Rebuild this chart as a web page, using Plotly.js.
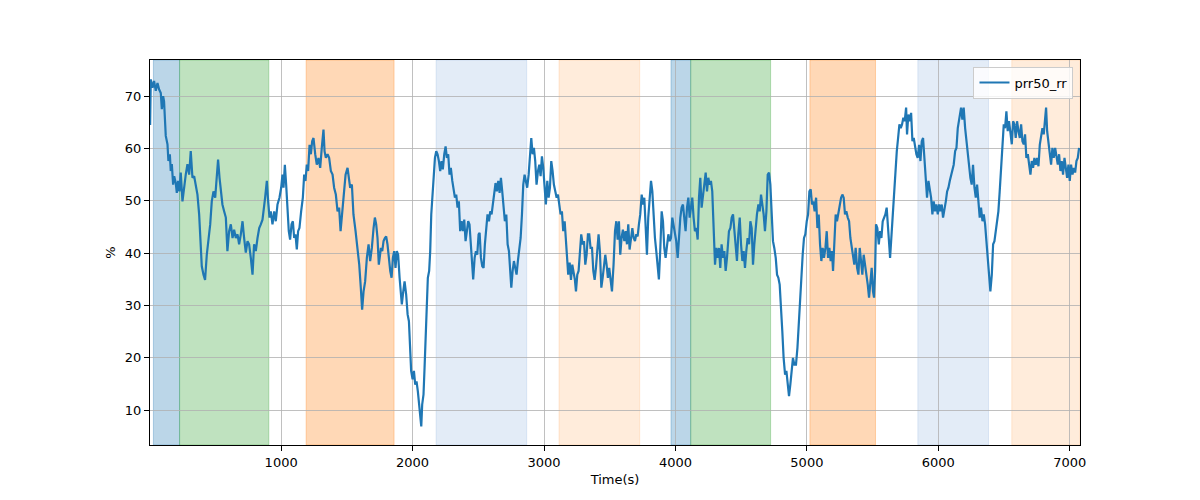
<!DOCTYPE html>
<html>
<head>
<meta charset="utf-8">
<script src="https://cdn.plot.ly/plotly-3.0.1.min.js"></script>
<style>html,body{margin:0;padding:0;background:#fff}#chart{width:1200px;height:500px}</style>
</head>
<body>
<div id="chart"></div>
<script>
// Time stamps (s) and prr50_rr values (%)
const timeSec = [
  3, 8, 21, 33, 46, 59, 71, 84, 92, 102,
  109, 122, 135, 142, 153, 160, 168, 178, 186, 198,
  206, 216, 226, 236, 249, 262, 274, 287, 300, 312,
  325, 338, 350, 363, 376, 389, 396, 409, 421, 434,
  447, 460, 472, 485, 498, 510, 520, 531, 541, 553,
  566, 579, 591, 604, 617, 630, 642, 655, 668, 680,
  693, 706, 718, 731, 744, 756, 769, 782, 794, 807,
  820, 833, 845, 858,
  878, 891, 901, 911, 921, 934, 947, 959, 972, 987,
  1000, 1010, 1018, 1028, 1038, 1048, 1058, 1068, 1079, 1089,
  1099, 1109, 1119, 1129, 1139, 1152, 1165, 1175, 1185, 1195,
  1205, 1216, 1226, 1236, 1246, 1259, 1271, 1284, 1297, 1309,
  1322, 1330, 1340, 1353, 1365, 1378, 1391, 1403, 1416, 1429,
  1441, 1452, 1464, 1477, 1490, 1505, 1515, 1525, 1538, 1550,
  1566, 1581, 1594, 1606, 1616, 1627, 1639, 1652, 1665, 1677,
  1690, 1703, 1713, 1723, 1733, 1743,
  1759, 1769, 1779, 1789, 1799, 1809, 1819, 1830, 1840, 1850,
  1860, 1870, 1880, 1890, 1901, 1911, 1918, 1929, 1939, 1951,
  1962, 1972, 1982, 1989, 2000, 2010, 2020, 2030, 2040, 2050,
  2058, 2066, 2073, 2083, 2091, 2099, 2106, 2116, 2126, 2134,
  2142, 2149, 2159, 2170, 2180, 2190, 2200, 2210, 2220, 2230,
  2241, 2251, 2261, 2271, 2281, 2291, 2302, 2312, 2322, 2332,
  2342, 2352, 2362, 2373, 2383, 2393, 2403, 2413, 2423, 2433,
  2444, 2454, 2461, 2472, 2482, 2492, 2502, 2510, 2520, 2530,
  2540, 2550, 2560, 2570, 2581, 2591, 2601, 2611, 2621, 2631,
  2641, 2652, 2662, 2672, 2682, 2692, 2702, 2713, 2723, 2733,
  2743, 2751, 2761, 2771, 2781, 2791, 2801, 2811, 2822, 2832,
  2842, 2852, 2862, 2872, 2883, 2893, 2903, 2913, 2923, 2933,
  2943, 2954, 2964, 2974, 2984, 2994, 3004, 3014, 3025, 3035,
  3045, 3055, 3065, 3075, 3086, 3096, 3106, 3116, 3126, 3136,
  3146, 3157, 3167, 3177, 3184, 3195, 3205, 3215, 3225, 3235,
  3243, 3253, 3263, 3273, 3283, 3294, 3304, 3314, 3324, 3334,
  3344, 3354, 3365, 3375, 3385, 3395, 3405, 3415, 3425, 3436,
  3446, 3456, 3466, 3476, 3486, 3496, 3507, 3517,
  3529, 3540, 3550, 3560, 3570, 3580, 3590, 3600, 3611, 3621,
  3631, 3641, 3651, 3661, 3672, 3682, 3692, 3702, 3712, 3722,
  3732, 3743, 3753, 3763, 3773, 3783, 3793, 3803, 3814, 3824,
  3834, 3844, 3854, 3864, 3874, 3885, 3895, 3905, 3915, 3925,
  3935, 3946, 3956, 3966, 3976, 3986, 3996, 4006, 4017, 4027,
  4037, 4047, 4057, 4067, 4077, 4088, 4098, 4108, 4118, 4128,
  4138, 4148, 4159, 4169, 4179, 4189, 4199, 4209, 4220, 4230,
  4240, 4250, 4260, 4270, 4280, 4291, 4301, 4311, 4321, 4331,
  4341, 4351, 4362, 4372, 4382, 4392,
  4407, 4418, 4428, 4438, 4448, 4458, 4468, 4478, 4489, 4499,
  4509, 4519, 4529, 4539, 4549, 4560, 4570, 4580, 4590, 4600,
  4610, 4620, 4631, 4641, 4651, 4661, 4671, 4681, 4692, 4702,
  4712, 4722, 4732, 4742, 4752, 4763, 4773, 4783, 4793, 4803,
  4813, 4823, 4834, 4844, 4854, 4864, 4874, 4884, 4894, 4905,
  4917, 4928, 4938, 4948, 4958, 4968, 4978, 4988, 4999, 5009,
  5019, 5029, 5039, 5049, 5059, 5070, 5080, 5090, 5100, 5110,
  5120, 5130, 5141, 5151, 5161, 5171, 5181, 5191, 5199, 5209,
  5219, 5229, 5240, 5250, 5260, 5270,
  5280, 5290, 5300, 5311, 5321, 5331, 5341, 5351, 5361, 5371,
  5382, 5392, 5402, 5412, 5422, 5432, 5443, 5453, 5463, 5473,
  5483, 5493, 5503, 5511, 5519, 5526, 5536, 5547, 5557, 5567,
  5577, 5587, 5597, 5607, 5618, 5628, 5633, 5643, 5653, 5663,
  5673, 5684, 5694, 5704, 5714, 5724, 5734, 5744, 5755, 5762,
  5772, 5783, 5793, 5803, 5813, 5823, 5833, 5843, 5854, 5864,
  5874, 5884, 5894, 5904, 5914, 5925, 5935, 5945, 5955, 5965,
  5975, 5985, 5996, 6006, 6016, 6026, 6036, 6046, 6057, 6067,
  6077, 6087, 6097, 6107, 6117, 6128, 6138, 6148, 6158,
  6163, 6173, 6183, 6193, 6204, 6214, 6224, 6234, 6244, 6254,
  6264, 6275, 6285, 6295, 6305, 6315, 6325, 6336, 6346, 6356,
  6366, 6376, 6386, 6396, 6407, 6417, 6427, 6437, 6447, 6457,
  6467, 6478, 6488, 6498, 6508, 6518, 6528, 6538, 6549, 6559,
  6569, 6579, 6589, 6599, 6610, 6620, 6630, 6640, 6650, 6660,
  6670, 6681, 6691, 6701, 6711, 6721, 6731, 6741, 6752, 6762,
  6772, 6782, 6792, 6802, 6812, 6820, 6828, 6838, 6848, 6858,
  6868, 6878, 6889, 6899, 6909, 6919, 6929, 6939, 6949, 6960,
  6970, 6980, 6990, 7000, 7010, 7021, 7031, 7041, 7051, 7061,
  7071
];
const prr50 = [
  64.5, 73.2, 71.6, 72.9, 71.0, 72.5, 71.3, 70.6, 67.5, 70.0,
  69.0, 62.4, 60.8, 57.6, 58.9, 55.7, 57.0, 53.1, 54.7, 53.4,
  51.5, 53.8, 51.8, 55.4, 49.9, 53.1, 55.0, 57.0, 55.0, 59.5,
  54.4, 54.7, 53.1, 51.2, 47.4, 42.3, 37.5, 35.9, 34.9, 39.7,
  42.9, 45.5, 49.9, 51.8, 50.6, 54.4, 57.9, 54.4, 51.8, 49.3,
  48.0, 46.8, 40.4, 44.2, 45.5, 42.9, 44.5, 42.9, 43.6, 41.7,
  43.6, 46.1, 42.9, 40.1, 42.3, 41.7, 39.1, 35.9, 41.7, 40.4,
  42.9, 44.8, 45.5, 46.4,
  50.6, 53.8, 49.9, 46.8, 48.0, 45.5, 48.0, 46.1, 49.3, 50.6,
  52.5, 55.0, 52.5, 56.9, 53.1, 49.3, 44.2, 42.6, 45.5, 46.1,
  42.9, 43.6, 40.7, 44.2, 44.8, 48.0, 50.6, 55.0, 53.8, 56.9,
  55.7, 60.7, 58.9, 61.4, 62.0, 58.9, 56.9, 58.2, 56.3, 60.1,
  63.6, 59.5, 58.2, 58.9, 58.2, 55.7, 55.0, 52.5, 51.2, 48.0,
  48.7, 44.2, 47.4, 51.8, 55.0, 56.3, 53.8, 52.5, 53.1, 47.4,
  44.2, 41.0, 37.8, 33.4, 29.2, 32.7, 34.6, 39.1, 41.7, 38.5,
  41.0, 44.8, 46.8, 45.5, 42.9, 37.8,
  41.0, 40.4, 42.3, 42.9, 43.2, 41.7, 38.5, 36.6, 35.3, 39.1,
  40.4, 37.2, 40.4, 39.7, 35.3, 32.7, 30.2, 32.7, 34.6, 32.1,
  28.3, 27.0, 21.3, 17.5, 15.9, 17.5, 14.9, 15.5, 13.6, 11.1,
  9.8, 6.9, 11.1, 13.0, 18.1, 23.8, 29.6, 35.3, 36.6, 40.4,
  47.4, 50.6, 55.0, 58.2, 59.5, 58.9, 57.6, 55.7, 57.6, 56.0,
  58.9, 60.4, 58.2, 58.9, 55.0, 56.3, 53.8, 52.5, 50.6, 51.2,
  48.7, 49.9, 44.2, 46.1, 44.2, 46.4, 42.3, 44.2, 46.1, 45.5,
  41.7, 38.5, 35.0, 39.1, 40.4, 39.7, 43.6, 43.9, 39.1, 37.5,
  37.2, 41.7, 44.8, 47.4, 46.1, 48.0, 47.4, 49.3, 51.8, 53.4,
  51.8, 53.8, 51.5, 54.4, 51.8, 48.7, 46.1, 47.4, 41.7, 40.4,
  36.6, 33.4, 36.6, 38.5, 37.2, 35.9, 38.5, 41.0, 42.9, 47.4,
  53.1, 55.0, 53.8, 52.5, 55.0, 58.2, 62.0, 58.9, 60.1, 57.6,
  53.1, 55.7, 56.9, 54.7, 58.5, 56.3, 51.8, 49.3, 53.8, 50.6,
  52.5, 57.6, 55.7, 53.1, 51.8, 50.6, 51.2, 49.3, 47.4, 48.0,
  44.2, 46.1, 41.7, 38.5, 35.9, 38.2, 34.9, 37.8, 36.6, 34.9,
  32.7, 35.9, 36.6, 39.7, 43.6, 41.7, 42.3, 37.8, 39.7, 43.6,
  43.6, 41.0, 41.0, 36.6, 34.9, 37.2, 41.0, 43.6, 40.4, 33.4,
  35.3, 37.8, 39.7, 37.8, 35.3, 37.2, 34.0, 32.7,
  37.8, 44.2, 46.1, 42.6, 46.1, 39.7, 42.9, 44.5, 42.3, 44.2,
  41.7, 45.5, 40.7, 42.9, 44.8, 42.9, 42.3, 43.6, 43.2, 45.5,
  47.4, 51.2, 49.3, 50.6, 45.5, 39.7, 46.8, 50.6, 53.8, 51.8,
  46.8, 42.9, 40.4, 37.8, 35.0, 41.0, 48.0, 46.1, 41.0, 39.1,
  41.7, 43.6, 42.3, 42.9, 46.8, 45.5, 44.2, 42.3, 39.1, 43.6,
  46.8, 48.7, 49.3, 46.8, 44.2, 48.7, 50.6, 46.8, 49.3, 50.6,
  46.8, 44.2, 44.8, 42.6, 50.6, 54.4, 48.7, 50.6, 52.5, 55.4,
  51.8, 54.4, 53.1, 53.8, 51.8, 44.2, 37.8, 41.0, 39.1, 41.0,
  37.2, 41.7, 39.1, 40.4, 36.6, 39.1,
  44.2, 44.8, 46.8, 47.4, 44.2, 40.4, 38.5, 43.6, 46.8, 41.7,
  38.5, 40.4, 37.2, 40.4, 42.9, 41.7, 46.1, 44.8, 37.8, 41.7,
  44.8, 47.4, 49.3, 48.0, 51.2, 49.3, 47.4, 44.2, 48.0, 55.0,
  55.4, 53.1, 48.7, 42.3, 41.0, 39.1, 35.9, 35.3, 34.0, 30.2,
  25.1, 20.0, 16.8, 17.5, 14.9, 12.7, 14.9, 17.5, 20.0, 18.7,
  18.7, 21.9, 26.4, 31.5, 36.6, 39.7, 42.9, 43.6, 46.1, 47.4,
  51.8, 52.2, 49.3, 49.9, 48.0, 50.6, 44.8, 47.4, 41.7, 38.5,
  41.0, 39.1, 41.0, 44.2, 39.1, 41.0, 38.5, 40.4, 36.6, 42.9,
  47.4, 46.1, 48.0, 49.3, 50.6, 51.2,
  50.6, 47.4, 48.0, 46.8, 46.1, 42.9, 41.0, 39.1, 37.8, 41.0,
  37.2, 35.9, 41.0, 38.5, 35.9, 39.7, 37.8, 35.9, 34.0, 31.5,
  35.3, 37.2, 32.7, 31.5, 36.6, 45.5, 44.8, 41.7, 44.2, 42.9,
  46.1, 46.8, 47.4, 48.7, 45.5, 41.0, 39.1, 43.6, 47.4, 51.8,
  55.7, 59.5, 62.0, 64.6, 63.9, 64.6, 65.9, 65.2, 67.8, 62.7,
  66.5, 65.2, 66.8, 61.4, 62.0, 60.1, 58.9, 58.2, 60.7, 57.6,
  61.4, 62.0, 58.2, 54.4, 50.6, 53.8, 51.8, 50.6, 47.4, 49.9,
  48.0, 49.3, 47.4, 49.3, 48.0, 49.3, 46.8, 48.0, 49.9, 51.8,
  52.5, 53.8, 55.0, 56.3, 56.9, 59.5, 60.1, 63.9, 65.2,
  66.5, 67.8, 65.5, 67.8, 63.9, 61.4, 58.2, 56.3, 54.4, 53.1,
  56.9, 52.5, 50.6, 53.1, 49.9, 46.8, 48.7, 46.1, 47.4, 45.5,
  42.3, 39.1, 35.3, 32.7, 35.9, 41.7, 42.3, 44.2, 46.1, 48.0,
  51.8, 56.9, 62.0, 64.6, 63.9, 67.1, 63.3, 65.2, 63.0, 60.8,
  65.2, 64.6, 62.0, 65.2, 63.3, 62.0, 64.6, 61.4, 60.8, 62.7,
  58.2, 58.9, 56.9, 55.0, 57.6, 56.3, 58.2, 56.9, 58.2, 56.6,
  60.7, 62.7, 63.9, 62.7, 65.2, 67.8, 63.3, 60.8, 58.2, 56.9,
  60.1, 58.2, 60.1, 58.2, 56.9, 58.9, 55.7, 57.6, 55.0, 58.2,
  56.3, 54.4, 56.9, 53.8, 56.9, 55.0, 56.3, 55.4, 57.6, 58.2,
  60.1
];

// Shaded phases (s)
const phaseStart = [28, 227, 1190, 2179, 3114, 3966, 4116, 5023, 5844, 6559];
const phaseEnd   = [227, 906, 1859, 2868, 3728, 4116, 4724, 5522, 6382, 7078];
const phaseKind  = ['blue', 'green', 'orange', 'lightblue', 'lightorange',
                    'blue', 'green', 'orange', 'lightblue', 'lightorange'];
const phaseColors = {
  blue: 'rgba(31,119,180,0.3)',
  green: 'rgba(44,160,44,0.3)',
  orange: 'rgba(255,127,14,0.3)',
  lightblue: 'rgba(60,120,200,0.14)',
  lightorange: 'rgba(255,127,14,0.15)'
};

const xTicks = [1000, 2000, 3000, 4000, 5000, 6000, 7000];
const yTicks = [10, 20, 30, 40, 50, 60, 70];

const shapes = phaseStart.map((s, i) => ({
  type: 'rect', xref: 'x', yref: 'paper',
  x0: s, x1: phaseEnd[i], y0: 0, y1: 1,
  fillcolor: phaseColors[phaseKind[i]],
  line: {color: phaseColors[phaseKind[i]], width: 1},
  layer: 'below'
}));

const font = {family: 'DejaVu Sans, sans-serif', size: 13, color: '#000'};

const trace = {
  x: timeSec, y: prr50, type: 'scatter', mode: 'lines',
  name: 'prr50_rr',
  line: {color: '#1f77b4', width: 2.2}
};

const axisCommon = {
  showline: true, mirror: true, linecolor: '#000', linewidth: 1,
  ticks: 'outside', ticklen: 5, tickwidth: 1, tickcolor: '#000',
  showgrid: true, gridcolor: '#b0b0b0', gridwidth: 0.8,
  zeroline: false, tickfont: font
};

const layout = {
  width: 1200, height: 500,
  margin: {l: 150, r: 120, t: 60, b: 55},
  paper_bgcolor: '#fff', plot_bgcolor: 'rgba(0,0,0,0)',
  font: font,
  showlegend: true,
  legend: {
    x: 0.993, y: 0.983, xanchor: 'right', yanchor: 'top',
    bgcolor: 'rgba(255,255,255,0.8)', bordercolor: '#cccccc', borderwidth: 1,
    font: font, itemwidth: 30
  },
  xaxis: Object.assign({}, axisCommon, {
    range: [2, 7078], tickvals: xTicks, ticktext: xTicks.map(String),
    title: {text: 'Time(s)', font: font, standoff: 6}
  }),
  yaxis: Object.assign({}, axisCommon, {
    range: [3.36, 76.9], tickvals: yTicks, ticktext: yTicks.map(String),
    title: {text: '%', font: font, standoff: 6}
  }),
  shapes: shapes
};

Plotly.newPlot('chart', [trace], layout, {displayModeBar: false, staticPlot: true});
</script>
</body>
</html>
